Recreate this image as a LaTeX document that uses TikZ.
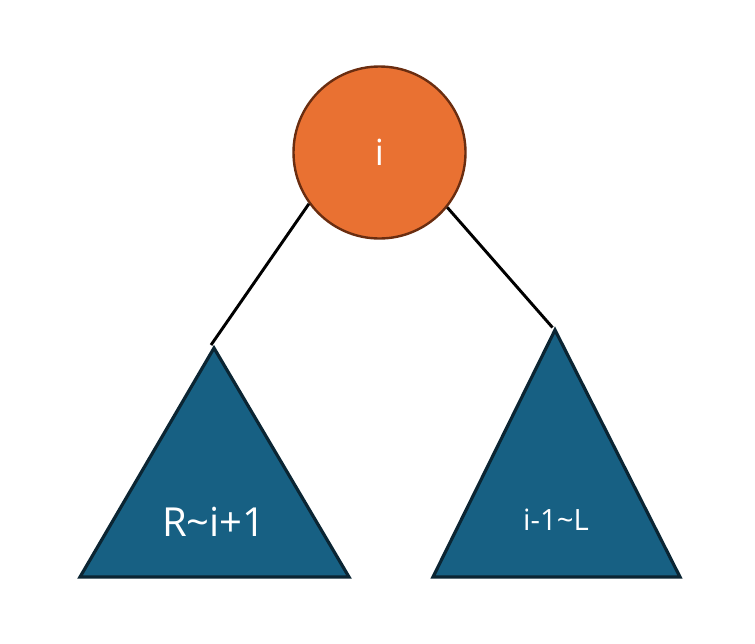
\documentclass[tikz,border=0pt]{standalone}
\usepackage{fontspec}
\setmainfont{Open Sans}
\usepackage{tikz}
\definecolor{nodeorange}{HTML}{E97132}
\definecolor{nodebrown}{HTML}{6A2D10}
\definecolor{treeblue}{HTML}{176083}
\definecolor{treedark}{HTML}{0B2533}
\newlength{\pxu}
\setlength{\pxu}{0.75pt}
\tikzset{
	root/.style={circle, draw=nodebrown, fill=nodeorange, line width=1.8pt,
		minimum size=172\pxu, inner sep=0pt, text=white, font=\fontsize{27}{30}\selectfont},
	subtree/.style={draw=treedark, fill=treeblue, line width=2.4pt, line join=miter},
	label/.style={text=white, inner sep=0pt},
	edge/.style={black, line width=2.2pt}
}
\begin{document}
\begin{tikzpicture}[x=0.75pt, y=-0.75pt]
		\useasboundingbox (0,0) rectangle (755,643);
		\node[root] (i) at (379.5,152.5) {i};
		
		% left subtree
		\coordinate (LA) at (214,348);
		\coordinate (LB) at (80,577);
		\coordinate (LC) at (349,577);
		\coordinate (lt) at (211,345);
		\draw[subtree] (LA) -- (LB) -- (LC) -- cycle;
		\node[label, font=\fontsize{30}{33}\selectfont] (rl) at (214,522) {R\textasciitilde i+1};
		
		% right subtree
		\coordinate (RA) at (555,330);
		\coordinate (RB) at (433,577);
		\coordinate (RC) at (680,577);
		\coordinate (rt) at (552.5,327.5);
		\draw[subtree] (RA) -- (RB) -- (RC) -- cycle;
		\node[label, font=\fontsize{22}{25}\selectfont] (lr) at (556,520) {i-1\textasciitilde L};
		
		\draw[edge] (i.216) -- (lt);
		\draw[edge] (i.-39) -- (rt);
	\end{tikzpicture}
\end{document}
